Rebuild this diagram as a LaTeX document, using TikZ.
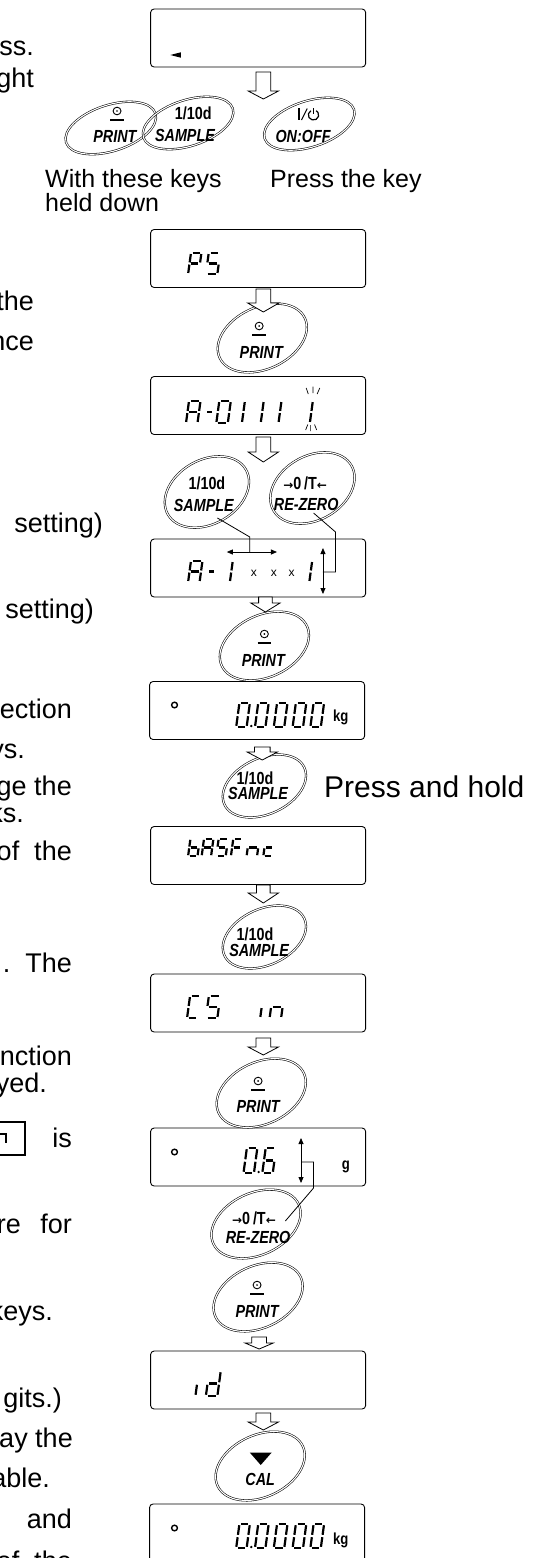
\documentclass[tikz,border=0pt]{standalone}
\usepackage{fontspec}
\setmainfont{Liberation Sans}
\newfontfamily\keyfont[FakeStretch=0.82]{Liberation Sans}
\newfontfamily\arrowfont{DejaVu Sans}
\usetikzlibrary{arrows.meta,shapes.geometric}

\newcommand\sgA{\draw[segline] (0.16,-2) -- (0.84,-2);}
\newcommand\sgB{\draw[segline] (1,-1.9) -- (1,-1.1);}
\newcommand\sgC{\draw[segline] (1,-0.9) -- (1,-0.1);}
\newcommand\sgD{\draw[segline] (0.16,0) -- (0.84,0);}
\newcommand\sgE{\draw[segline] (0,-0.9) -- (0,-0.1);}
\newcommand\sgF{\draw[segline] (0,-1.9) -- (0,-1.1);}
\newcommand\sgG{\draw[segline] (0.16,-1) -- (0.84,-1);}
% x, y (bottom), width, height, segments
\newcommand\sevch[5]{\begin{scope}[shift={(#1,#2)},xslant=0.13,xscale=#3,yscale=#4/2]\foreach \s in {#5}{\csname sg\s\endcsname}\end{scope}}
% block arrow: cx, top, head start, tip, shaft half width, head half width
\newcommand\blkarr[6]{\draw[blkarrow] (#1-#5,#2) -- (#1+#5,#2) -- (#1+#5,#3) -- (#1+#6,#3) -- (#1,#4) -- (#1-#6,#3) -- (#1-#5,#3) -- cycle;}
% print symbol
\newcommand\prsym[2]{\draw[line width=0.9pt] (#1,#2) circle (3.8pt); \fill (#1,#2) circle (0.9pt); \draw[line width=1.3pt] (#1-6.5,#2+9) -- (#1+6.5,#2+9);}

\tikzset{
 disp/.style={draw, line width=0.9pt, rounded corners=3.5pt, minimum width=215pt, minimum height=58pt, inner sep=0},
 keyov/.style={ellipse, draw, line width=0.55pt, double=white, double distance=1.1pt, inner sep=0},
 blkarrow/.style={draw, fill=white, line width=0.8pt},
 segline/.style={line width=2.2pt},
 conn/.style={line width=0.8pt},
 dbl/.style={line width=0.8pt, {Triangle[length=6pt,width=5pt]}-{Triangle[length=6pt,width=5pt]}},
 lt/.style={anchor=base east, inner sep=0, font=\fontsize{27}{27}\selectfont},
 captxt/.style={anchor=base west, inner sep=0, font=\fontsize{25}{25}\selectfont},
 bigtxt/.style={anchor=base west, inner sep=0, font=\fontsize{30}{30}\selectfont},
 keylbl/.style={inner sep=0, font=\keyfont\fontsize{17.5}{17.5}\selectfont\bfseries\itshape},
 keynum/.style={inner sep=0, font=\keyfont\fontsize{17.5}{17.5}\selectfont\bfseries},
 unitlbl/.style={inner sep=0, font=\keyfont\fontsize{16}{16}\selectfont\bfseries},
 smallx/.style={inner sep=0, font=\fontsize{12}{12}\selectfont},
}

\begin{document}
\begin{tikzpicture}[x=1pt,y=-1pt]
\useasboundingbox (0,0) rectangle (547,1558);

% ---------- left text fragments ----------
\node[lt] (t1) at (34,55) {ss.};
\node[lt] (t2) at (34,87) {ght};
\node[lt] (t3) at (34,310) {the};
\node[lt] (t4) at (34,350) {nce};
\node[lt] (t5) at (103,532) {setting)};
\node[lt] (t6) at (94,618) {setting)};
\node[lt] (t7) at (72,718) {ection};
\node[lt] (t8) at (25,758) {ys.};
\node[lt] (t9) at (72,795) {ge\ the};
\node[lt] (t10) at (24,822) {ks.};
\node[lt] (t11) at (72,860) {of\ \ the};
\node[lt] (t12) at (72,972) {.\ \ The};
\node[lt] (t13) at (72,1065) {nction};
\node[lt] (t14) at (47,1092) {yed.};
\draw[line width=1.1pt] (-2,1122) -- (25,1122) -- (25,1155) -- (-2,1155);
\draw[line width=1.2pt] (0,1134) -- (6,1134) -- (6,1143);
\node[lt] (t15) at (72,1147) {is};
\node[lt] (t16a) at (21,1233) {re};
\node[lt] (t16b) at (72,1233) {for};
\node[lt] (t17) at (53,1320) {keys.};
\node[lt] (t18) at (62,1407) {gits.)};
\node[lt] (t19) at (73,1447) {lay the};
\node[lt] (t20) at (50,1487) {able.};
\node[lt] (t21) at (72,1528) {and};
\node[lt] (t22) at (72,1570) {of\ \ the};

\begin{scope}[xscale=1.045]
% ---------- displays ----------
\node[disp] (d1) at (247,38) {};
\node[disp] (d2) at (247,258.5) {};
\node[disp] (d3) at (247,405.5) {};
\node[disp] (d4) at (247,568) {};
\node[disp] (d5) at (246,710.5) {};
\node[disp] (d6) at (247,855.5) {};
\node[disp] (d7) at (247,1003) {};
\node[disp] (d8) at (247,1157) {};
\node[disp] (d9) at (247,1380) {};
\node[disp] (d10) at (246,1533) {};

% d1 content
\fill (163,55) -- (173,52.3) -- (173,57.7) -- cycle;
% d2 PS
\sevch{180}{274}{10}{21}{A,B,E,F,G}
\sevch{197}{274}{11}{21}{A,F,G,C,D}
% d3 A-01111
\sevch{178}{423}{11}{22}{A,B,C,E,F,G}
\sevch{196}{423}{7}{22}{G}
\sevch{207}{423}{11}{22}{A,B,C,D,E,F}
\sevch{221.5}{423}{10}{22}{B,C}
\sevch{239.5}{423}{10}{22}{B,C}
\sevch{256.5}{423}{10}{22}{B,C}
\sevch{286.5}{423}{10}{22}{B,C}
\draw[line width=0.7pt] (293,388) -- (295,394) (299.5,386.5) -- (299.5,393) (306,388) -- (303.5,394);
\draw[line width=0.7pt] (292.5,430) -- (294.5,424.5) (297,425) -- (297,431) (303,430) -- (301,424.5);
% d4 A-1xxx1
\sevch{180}{582}{11}{21}{A,B,C,E,F,G}
\sevch{198}{582}{6}{21}{G}
\sevch{210}{582}{10}{21}{B,C}
\node[smallx] (x1) at (243,573) {x};
\node[smallx] (x2) at (262,573) {x};
\node[smallx] (x3) at (279,573) {x};
\sevch{286}{582}{10}{21}{B,C}
\coordinate (h1) at (217,552);
\coordinate (h2) at (265,552);
\draw[dbl] (h1) -- (h2);
\coordinate (v1) at (309,548);
\coordinate (v2) at (309,594);
\draw[dbl] (v1) -- (v2);
% d5 0.0000 kg
\draw[line width=1.4pt] (167,705) circle (2.8pt);
\sevch{226}{727}{10}{24}{A,B,C,D,E,F}
\fill (240.5,726) circle (1.3pt);
\sevch{244}{727}{10}{24}{A,B,C,D,E,F}
\sevch{262}{727}{10}{24}{A,B,C,D,E,F}
\sevch{280}{727}{10}{24}{A,B,C,D,E,F}
\sevch{297}{727}{10}{24}{A,B,C,D,E,F}
\node[unitlbl] (u1) at (326,717) {kg};
% d6 bASFnc
\sevch{180}{856}{9}{17}{F,E,G,C,D}
\sevch{193}{856}{9}{17}{A,B,C,E,F,G}
\sevch{207}{856}{9}{17}{A,F,G,C,D}
\sevch{221}{856}{9}{17}{A,F,E,G}
\sevch{236}{856}{10}{17}{E,G,C}
\sevch{252}{856}{9}{17}{G,E,D}
% d7 CS in
\sevch{179}{1018}{10}{22}{A,F,E,D}
\sevch{197}{1018}{11}{22}{A,F,G,C,D}
\sevch{249}{1018}{6}{22}{E}
\sevch{258}{1018}{11}{22}{E,G,C}
% d8 0.6 g
\draw[line width=1.4pt] (167,1152) circle (2.8pt);
\sevch{233}{1173}{10}{25}{A,B,C,D,E,F}
\fill (247.5,1172) circle (1.3pt);
\sevch{251}{1173}{10}{25}{A,F,G,E,D,C}
\node[unitlbl] (u2) at (331,1167) {g};
\coordinate (w1) at (288,1138);
\coordinate (w2) at (288,1183);
\draw[dbl] (w1) -- (w2);
% d9 id
\sevch{187}{1396}{6}{25}{E}
\sevch{197}{1396}{11}{25}{B,C,D,E,G}
% d10 0.0000 kg
\draw[line width=1.4pt] (167,1528) circle (2.8pt);
\sevch{226}{1548}{10}{24}{A,B,C,D,E,F}
\fill (240.5,1547) circle (1.3pt);
\sevch{244}{1548}{10}{24}{A,B,C,D,E,F}
\sevch{262}{1548}{10}{24}{A,B,C,D,E,F}
\sevch{280}{1548}{10}{24}{A,B,C,D,E,F}
\sevch{297}{1548}{10}{24}{A,B,C,D,E,F}
\node[unitlbl] (u3) at (326,1540) {kg};

% ---------- keys ----------
\node[keyov, minimum width=94pt, minimum height=46pt, rotate=18] (k1) at (106,128) {};
\node[keyov, minimum width=94pt, minimum height=46pt, rotate=18] (k2) at (180,123) {};
\node[keyov, minimum width=94pt, minimum height=46pt, rotate=18] (k3) at (296,124) {};
\node[keyov, minimum width=94pt, minimum height=62pt, rotate=25] (k4) at (251,338) {};
\node[keyov, minimum width=90pt, minimum height=64pt, rotate=30] (k5) at (198,492) {};
\node[keyov, minimum width=90pt, minimum height=64pt, rotate=30] (k6) at (299,488) {};
\node[keyov, minimum width=94pt, minimum height=62pt, rotate=25] (k7) at (253,646) {};
\node[keyov, minimum width=88pt, minimum height=56pt, rotate=25] (k8) at (253,786) {};
\node[keyov, minimum width=88pt, minimum height=56pt, rotate=25] (k9) at (253,937) {};
\node[keyov, minimum width=94pt, minimum height=62pt, rotate=25] (k10) at (250,1093) {};
\node[keyov, minimum width=94pt, minimum height=62pt, rotate=25] (k11) at (245,1224) {};
\node[keyov, minimum width=94pt, minimum height=62pt, rotate=25] (k12) at (247,1297) {};
\node[keyov, minimum width=94pt, minimum height=62pt, rotate=25] (k13) at (249,1466) {};

% key labels
\prsym{112}{111}
\node[keylbl] (k1t) at (110,136) {PRINT};
\node[keynum] (k2n) at (185,113) {1/10d};
\node[keylbl] (k2t) at (177,135) {SAMPLE};
\draw[line width=1.3pt] (286,108) -- (286,120);
\draw[line width=1pt] (288.5,120) -- (294,108.5);
\draw[line width=1.2pt] (297.5,110.7) arc [start angle=120, end angle=420, radius=5pt];
\draw[line width=1.2pt] (300,108) -- (300,113.5);
\node[keylbl] (k3t) at (290,136) {ON:OFF};
\prsym{248}{326}
\node[keylbl] (k4t) at (250,352) {PRINT};
\node[keynum] (k5n) at (198,483) {1/10d};
\node[keylbl] (k5t) at (195,505) {SAMPLE};
\node[keynum] (k6n) at (292,483) {{\arrowfont\fontsize{12}{12}\selectfont\bfseries →}0\,/T{\arrowfont\fontsize{12}{12}\selectfont\bfseries ←}};
\node[keylbl] (k6t) at (293,504) {RE-ZERO};
\prsym{253}{634}
\node[keylbl] (k7t) at (252,660) {PRINT};
\node[keynum] (k8n) at (244,778) {1/10d};
\node[keylbl] (k8t) at (247,793) {SAMPLE};
\node[keynum] (k9n) at (244,934) {1/10d};
\node[keylbl] (k9t) at (248,950) {SAMPLE};
\prsym{247}{1081}
\node[keylbl] (k10t) at (247,1106) {PRINT};
\node[keynum] (k11n) at (243,1218) {{\arrowfont\fontsize{12}{12}\selectfont\bfseries →}0\,/T{\arrowfont\fontsize{12}{12}\selectfont\bfseries ←}};
\node[keylbl] (k11t) at (247,1237) {RE-ZERO};
\prsym{246}{1285}
\node[keylbl] (k12t) at (246,1311) {PRINT};
\fill (239,1452.5) -- (260,1452.5) -- (249.5,1465) -- cycle;
\node[keylbl] (k13t) at (249,1479) {CAL};

% connectors from keys to the arrows
\coordinate (c1) at (208,518);
\coordinate (c2) at (239,537);
\draw[conn] (c1) -- (c2) -- (c2 |- h1);
\coordinate (c3) at (300,513);
\coordinate (c4) at (321,532);
\coordinate (c5) at (321,572);
\draw[conn] (c3) -- (c4) -- (c5) -- (v1 |- c5);
\coordinate (c6) at (300,1162);
\coordinate (c7) at (300,1188);
\coordinate (c8) at (273,1221);
\draw[conn] (w1 |- c6) -- (c6) -- (c7) -- (c8);

% ---------- block arrows ----------
\blkarr{252}{72}{91}{99}{7}{14.5}
\blkarr{252}{289}{303}{312}{7}{15}
\blkarr{252}{437}{452}{462}{7}{14.5}
\blkarr{254}{597}{603}{612}{6.5}{14}
\blkarr{251}{747}{752}{760}{7.5}{14.5}
\blkarr{252}{885}{893}{903}{6.5}{14.5}
\blkarr{252}{1038}{1047}{1055}{7}{14.5}
\blkarr{248}{1337}{1343}{1349}{7}{13.5}
\blkarr{252}{1413}{1422}{1430}{7}{14.5}
\end{scope}

% ---------- captions ----------
\node[captxt] (cap1) at (45,187) {With these keys};
\node[captxt] (cap2) at (45,211) {held down};
\node[captxt] (cap3) at (270,187) {Press the key};
\node[bigtxt] (cap4) at (324,797) {Press and hold};
\end{tikzpicture}
\end{document}
